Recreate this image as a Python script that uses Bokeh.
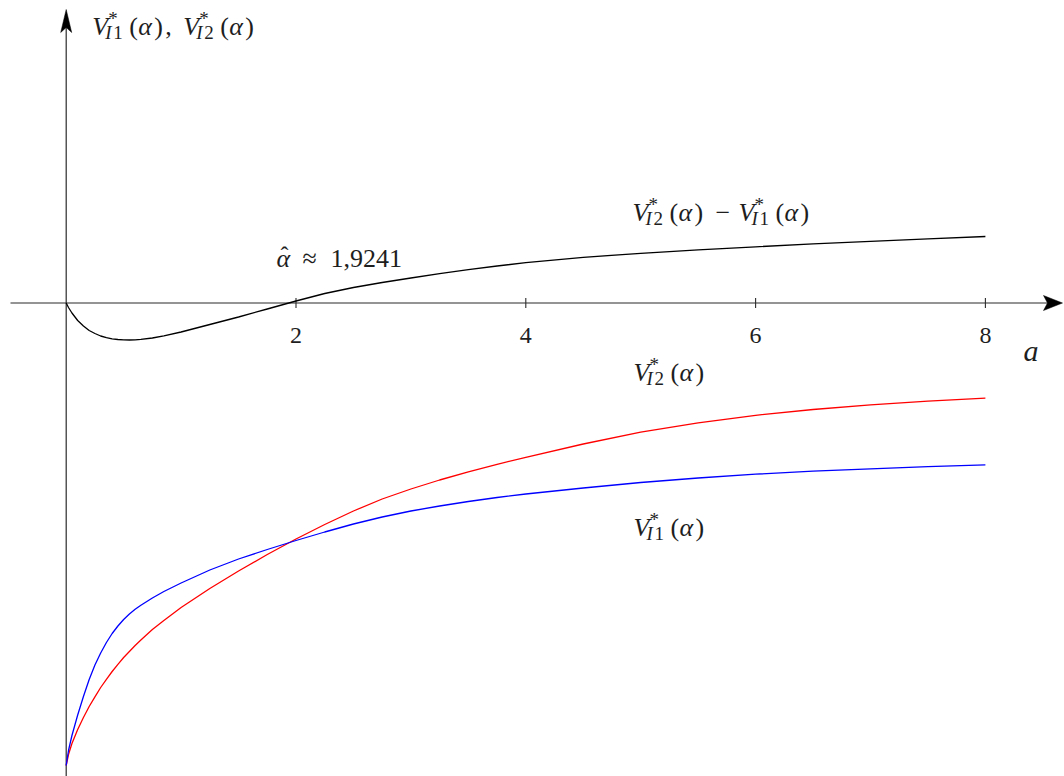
from bokeh.plotting import figure
from bokeh.models import Range1d
from bokeh.core.properties import value
from bokeh.embed import file_html
from bokeh.resources import INLINE

# ---- data -------------------------------------------------------------
alpha = [0, 0.02, 0.05, 0.1, 0.15, 0.2, 0.25, 0.3, 0.35, 0.4, 0.45, 0.5,
         0.55, 0.6, 0.65, 0.75, 0.85, 1, 1.25, 1.5, 1.75, 2, 2.25, 2.5,
         2.75, 3, 3.25, 3.5, 3.75, 4, 4.5, 5, 5.5, 6, 6.5, 7, 7.5, 8]

v_i1 = [-4.625, -4.475, -4.325, -4.12, -3.935, -3.765, -3.62, -3.50,
        -3.395, -3.305, -3.23, -3.165, -3.11, -3.063, -3.023, -2.95,
        -2.885, -2.80, -2.67, -2.56, -2.465, -2.375, -2.29, -2.21,
        -2.14, -2.08, -2.03, -1.985, -1.945, -1.91, -1.85, -1.795,
        -1.75, -1.712, -1.682, -1.658, -1.637, -1.618]

v_i2 = [-4.625, -4.515, -4.405, -4.265, -4.145, -4.035, -3.938, -3.845,
        -3.763, -3.685, -3.613, -3.545, -3.485, -3.425, -3.37, -3.265,
        -3.175, -3.045, -2.855, -2.68, -2.515, -2.36, -2.215, -2.08,
        -1.96, -1.86, -1.77, -1.688, -1.613, -1.543, -1.41, -1.292,
        -1.198, -1.123, -1.065, -1.018, -0.982, -0.952]

v_diff = [0.0, -0.045, -0.10, -0.175, -0.23, -0.275, -0.305, -0.33,
          -0.346, -0.358, -0.365, -0.369, -0.37, -0.368, -0.364, -0.35,
          -0.328, -0.29, -0.215, -0.14, -0.06, 0.02, 0.095, 0.155,
          0.205, 0.25, 0.293, 0.333, 0.37, 0.403, 0.457, 0.497,
          0.531, 0.562, 0.591, 0.617, 0.642, 0.665]

x_ticks = [2, 4, 6, 8]
x_tick_labels = ["2", "4", "6", "8"]
alpha_hat = "1,9241"

# ---- canvas -----------------------------------------------------------
W, H = 1064, 776
X0, X1 = -0.5718, 8.6884
Y0, Y1 = -4.735, 3.025
PX_X = (X1 - X0) / W   # data units per screen pixel
PX_Y = (Y1 - Y0) / H

SERIF = "Liberation Serif"
INK = "#1e1e1e"
AXIS = "#2b2b2b"
LIFT = 7  # raise all text baselines by this many pixels

p = figure(width=W, height=H, x_range=Range1d(X0, X1), y_range=Range1d(Y0, Y1),
           output_backend="svg", toolbar_location=None, min_border=0)
p.axis.visible = False
p.grid.visible = False
p.outline_line_color = None
p.background_fill_color = "white"
p.border_fill_color = "white"

# ---- axes drawn through the origin -----------------------------------
x_tip = X1 - 2 * PX_X
y_tip = Y1 - 9 * PX_Y
p.segment(x0=[X0 + 10 * PX_X], y0=[0], x1=[x_tip - 10 * PX_X], y1=[0],
          line_color=AXIS, line_width=1.2)
p.segment(x0=[0], y0=[Y0], x1=[0], y1=[y_tip - 10 * PX_Y],
          line_color=AXIS, line_width=1.2)

# arrow heads
p.patch(x=[x_tip, x_tip - 19 * PX_X, x_tip - 15 * PX_X, x_tip - 19 * PX_X],
        y=[0, 7.5 * PX_Y, 0, -7.5 * PX_Y], fill_color="black", line_color="black",
        line_width=0.5)
p.patch(x=[0, 5.5 * PX_X, 0, -5.5 * PX_X],
        y=[y_tip, y_tip - 23 * PX_Y, y_tip - 18 * PX_Y, y_tip - 23 * PX_Y],
        fill_color="black", line_color="black", line_width=0.5)

# ticks and tick labels
p.segment(x0=x_ticks, y0=[-5 * PX_Y] * len(x_ticks), x1=x_ticks,
          y1=[5 * PX_Y] * len(x_ticks), line_color=AXIS, line_width=1.1)
p.text(x=x_ticks, y=[-(40.5 - LIFT - 1) * PX_Y] * len(x_ticks), text=x_tick_labels,
       text_font=value(SERIF), text_font_size="24px", text_align="center",
       text_baseline="alphabetic", text_color=INK)

# ---- curves -----------------------------------------------------------
p.line(alpha, v_i2, line_color="#ff0000", line_width=1.3)
p.line(alpha, v_i1, line_color="#0000ff", line_width=1.3)
p.line(alpha, v_diff, line_color="black", line_width=1.3)


# ---- math-style labels -----------------------------------------------
def piece(xa, ya, dx, dy, s, size, italic=False, align="left"):
    p.text(x=[xa + dx * PX_X], y=[ya + (dy + LIFT) * PX_Y], text=[s],
           text_font=value(SERIF), text_font_size=f"{size}px",
           text_font_style="italic" if italic else "normal",
           text_align=align, text_baseline="alphabetic", text_color=INK)


def v_star(xa, ya, idx, dx=0):
    """V^*_{I idx}(alpha) starting dx pixels right of the anchor."""
    piece(xa, ya, dx, 0, "V", 26, True)
    piece(xa, ya, dx + 16, 8, "*", 19)
    piece(xa, ya, dx + 13, -6, "I", 19, True)
    piece(xa, ya, dx + 21, -6, idx, 19)
    piece(xa, ya, dx + 37, 0, "(", 26)
    piece(xa, ya, dx + 46, 0, "α", 26, True)
    piece(xa, ya, dx + 62, 0, ")", 26)


# axis titles
ya_top = Y1 - 33 * PX_Y
v_star(26 * PX_X, ya_top, "1")
piece(26 * PX_X, ya_top, 73, 0, ",", 26)
v_star(26 * PX_X, ya_top, "2", 91)
piece(8.331, -0.545, 0, 0, "a", 30, True)

# zero crossing of the difference curve
ax, ay = 1.830, 0.375
piece(ax, ay, 0, 0, "α", 26, True)
piece(ax, ay, 8, 4, "ˆ", 24, align="center")
piece(ax, ay, 26, 0, "≈", 26)
piece(ax, ay, 54, 0, alpha_hat, 26)

# curve names
dxa, dya = 4.929, 0.84
v_star(dxa, dya, "2")
piece(dxa, dya, 83, 0, "−", 26)
v_star(dxa, dya, "1", 106)

v_star(4.937, -0.765, "2")
v_star(4.937, -2.31, "1")

open("out.html", "w").write(file_html(p, INLINE))
